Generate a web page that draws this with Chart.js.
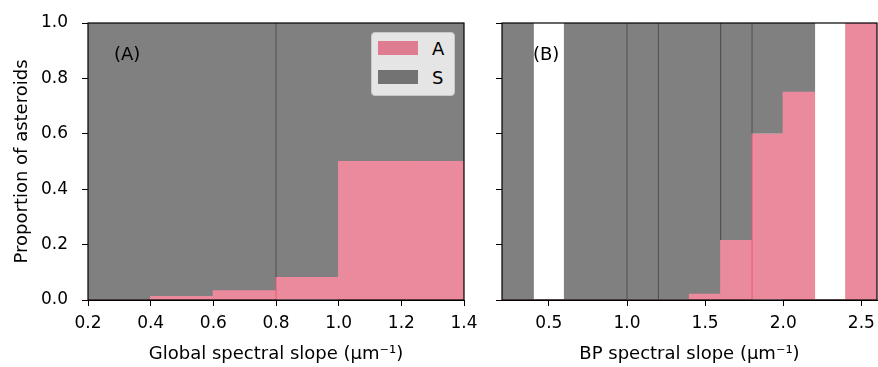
<!DOCTYPE html>
<html>
<head>
<meta charset="utf-8">
<script src="https://cdn.jsdelivr.net/npm/chart.js@4.4.1/dist/chart.umd.min.js"></script>
<style>
  html, body { margin: 0; padding: 0; background: #fff; }
  #wrap { position: relative; width: 878px; height: 367px; overflow: hidden; font-family: "DejaVu Sans", sans-serif; }
  canvas { position: absolute; top: 0; }
  #cA { left: 0; }
  #cB { left: 480px; }
  .panel { position: absolute; font-size: 18px; line-height: 18px; color: #000; }
  #legend { position: absolute; left: 371px; top: 32px; width: 82px; height: 62px; background: #e5e5e5; border: 1px solid #c8c8c8; border-radius: 4px; }
  .lpatch { position: absolute; left: 6px; width: 40px; height: 14px; }
  .ltext { position: absolute; left: 60px; font-size: 18px; line-height: 18px; color: #000; }
</style>
</head>
<body>
<div id="wrap">
  <canvas id="cA" width="480" height="367"></canvas>
  <canvas id="cB" width="398" height="367"></canvas>
  <div class="panel" style="left:114px; top:45px;">(A)</div>
  <div class="panel" style="left:533px; top:45px;">(B)</div>
  <div id="legend">
    <div class="lpatch" style="top:8px; background:#e07c8f;"></div>
    <div class="ltext" style="top:7px;">A</div>
    <div class="lpatch" style="top:37px; background:#737373;"></div>
    <div class="ltext" style="top:36px;">S</div>
  </div>
</div>
<script>
// ---- data ----
const seriesNames = ["A", "S"];
// Panel A: global spectral slope, bin centres (bin width 0.2)
const binsA = [0.3, 0.5, 0.7, 0.9, 1.1, 1.3];
const propA_typeA = [0, 0.012, 0.033, 0.083, 0.5, 0.5];
const propA_typeS = [1, 0.988, 0.967, 0.917, 0.5, 0.5];
// Panel B: BP spectral slope, bin centres (bin width 0.2)
const binsB = [0.3, 0.5, 0.7, 0.9, 1.1, 1.3, 1.5, 1.7, 1.9, 2.1, 2.3, 2.5];
const propB_typeA = [0, 0, 0, 0, 0, 0, 0.02, 0.214, 0.6, 0.75, 0, 1];
const propB_typeS = [1, 0, 1, 1, 1, 1, 0.98, 0.786, 0.4, 0.25, 0, 0];
// tick labels
const ticksXA = [0.2, 0.4, 0.6, 0.8, 1.0, 1.2, 1.4];
const ticksXB = [0.5, 1.0, 1.5, 2.0, 2.5];
const ticksY = [0.0, 0.2, 0.4, 0.6, 0.8, 1.0];
const titleXA = "Global spectral slope (μm⁻¹)";
const titleXB = "BP spectral slope (μm⁻¹)";
const titleY = "Proportion of asteroids";

// ---- styles ----
const PINK = "#eb8a9c", GRAY = "#808080";
const SEAM_GRAY = "#404040", SEAM_PINK = "#e14e6a";
// bar indices with a thin seam on their left edge
const seams = {
  A: { sLeft: [3], aLeft: [3] },
  B: { sLeft: [4, 5, 7, 8], aLeft: [8] }
};

Chart.defaults.font.family = "'DejaVu Sans', sans-serif";
Chart.defaults.color = "#000";

const frame = {
  id: "frame",
  afterDraw(chart) {
    const { ctx, chartArea: { left, top, right, bottom } } = chart;
    ctx.save();
    ctx.strokeStyle = "#000";
    ctx.lineWidth = 1.2;
    ctx.strokeRect(left, top, right - left, bottom - top);
    ctx.restore();
  }
};

function makeChart(id, bins, valsA, valsS, xmin, xmax, xticks, xtitle, showY, yWidth, padRight, sm) {
  const bw = (list, color) => ({
    borderWidth: (c) => ({ top: 0, right: 0, bottom: 0, left: list.includes(c.dataIndex) ? 1 : 0 }),
    borderColor: color
  });
  const common = { borderSkipped: "bottom", barPercentage: 1, categoryPercentage: 1, inflateAmount: 0.6 };
  return new Chart(document.getElementById(id), {
    type: "bar",
    data: {
      datasets: [
        Object.assign({ label: seriesNames[0], data: bins.map((x, i) => ({ x, y: valsA[i] })),
          backgroundColor: PINK }, common, bw(sm.aLeft, SEAM_PINK)),
        Object.assign({ label: seriesNames[1], data: bins.map((x, i) => ({ x, y: valsS[i] })),
          backgroundColor: GRAY }, common, bw(sm.sLeft, SEAM_GRAY))
      ]
    },
    options: {
      responsive: false,
      animation: false,
      layout: { padding: { top: 23, right: padRight, left: 0, bottom: 0 } },
      plugins: { legend: { display: false }, tooltip: { enabled: false } },
      scales: {
        x: {
          type: "linear", stacked: true, min: xmin, max: xmax, offset: false,
          afterBuildTicks: (s) => { s.ticks = xticks.map(v => ({ value: v })); },
          afterFit: (s) => { s.height = 67; s.paddingLeft = 0; s.paddingRight = 0; },
          ticks: { font: { size: 17 }, padding: 7, maxRotation: 0, autoSkip: false,
            callback: (v) => Number(v).toFixed(1) },
          grid: { display: true, drawOnChartArea: false, drawTicks: true, tickLength: 6, color: "#000", offset: false },
          border: { display: true, color: "#000", width: 1 },
          title: { display: true, text: xtitle, font: { size: 18 }, padding: { top: 0, bottom: 2 } }
        },
        y: {
          stacked: true, min: 0, max: 1,
          afterBuildTicks: (s) => { s.ticks = ticksY.map(v => ({ value: v })); },
          afterFit: (s) => { s.width = yWidth; s.paddingTop = 0; s.paddingBottom = 0; },
          ticks: { font: { size: 17 }, padding: 14, autoSkip: false,
            callback: (v) => showY ? Number(v).toFixed(1) : "" },
          grid: { display: true, drawOnChartArea: false, drawTicks: true, tickLength: 6, color: "#000" },
          border: { display: true, color: "#000", width: 1 },
          title: { display: showY, text: titleY, font: { size: 18 }, padding: { top: 12, bottom: 0 } }
        }
      }
    },
    plugins: [frame]
  });
}

makeChart("cA", binsA, propA_typeA, propA_typeS, 0.2, 1.4, ticksXA, titleXA, true, 88, 16, seams.A);
makeChart("cB", binsB, propB_typeA, propB_typeS, 0.2, 2.6, ticksXB, titleXB, false, 22, 1, seams.B);
</script>
</body>
</html>
